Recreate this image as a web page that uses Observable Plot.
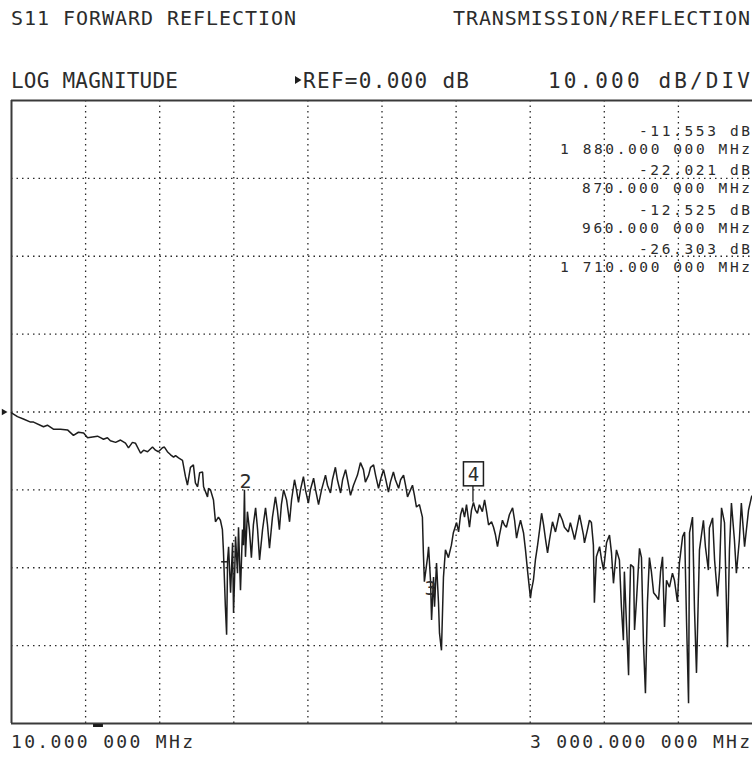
<!DOCTYPE html>
<html><head><meta charset="utf-8">
<script src="https://cdn.jsdelivr.net/npm/d3@7"></script>
<script src="https://cdn.jsdelivr.net/npm/@observablehq/plot@0.6"></script>
<style>html,body{margin:0;padding:0;background:#fff}#chart svg{display:block}</style>
</head><body><div id="chart"></div>
<script>
// ---- sweep / display settings ----
const startMHz = 10, stopMHz = 3000;
const refDB = 0, dbPerDiv = 10;
// ---- header / annotation texts ----
const titleLeft = "S11 FORWARD REFLECTION";
const titleRight = "TRANSMISSION/REFLECTION";
const formatText = "LOG MAGNITUDE";
const refText = "REF=0.000 dB";
const scaleText = "10.000 dB/DIV";
const startText = "10.000 000 MHz";
const stopText = "3 000.000 000 MHz";
const readoutDB = ["-11.553 dB", "-22.021 dB", "-12.525 dB", "-26.303 dB"];
const readoutMHz = ["1 880.000 000 MHz", "870.000 000 MHz", "960.000 000 MHz", "1 710.000 000 MHz"];
// ---- grid ----
const gridMHz = [309, 608, 907, 1206, 1505, 1804, 2103, 2402, 2701];
const gridDB = [30, 20, 10, 0, -10, -20, -30];
// ---- markers shown on trace ----
const markerLabels = ["2", "3", "4"];
const markerMHz = [950, 1705, 1874];
const markerDB = [-10.0, -21.8, -11.6];
const inactiveMarkerMHz = [870];
const inactiveMarkerDB = [-19.3];
const stimBarMHz = [341, 381];
// ---- trace: frequency (MHz) and magnitude (dB) ----
const freqMHz = [
10,34,58,87,99,139,155,179,208,236,
260,280,301,317,337,357,369,381,397,409,
430,450,470,482,498,510,531,543,559,579,
591,603,619,627,639,652,664,672,684,700,
712,720,732,744,752,761,769,781,785,801,
805,813,825,833,845,853,861,865,873,878,
882,886,894,902,906,910,914,922,926,934,
942,946,950,954,962,970,978,986,995,1003,
1011,1023,1035,1043,1051,1063,1075,1083,1091,1099,
1108,1120,1132,1140,1152,1160,1168,1176,1188,1196,
1208,1216,1229,1237,1249,1261,1277,1285,1297,1305,
1317,1325,1338,1346,1358,1366,1378,1390,1406,1418,
1430,1438,1451,1459,1471,1479,1491,1499,1511,1519,
1531,1539,1551,1559,1572,1580,1592,1600,1608,1620,
1628,1636,1644,1656,1668,1672,1676,1689,1693,1701,
1705,1713,1717,1725,1733,1737,1745,1753,1761,1773,
1785,1793,1806,1814,1822,1830,1838,1846,1858,1866,
1874,1882,1890,1898,1910,1919,1927,1935,1947,1955,
1963,1971,1979,1991,1999,2007,2019,2032,2040,2048,
2056,2064,2076,2084,2092,2104,2108,2116,2124,2132,
2141,2149,2157,2165,2173,2181,2193,2205,2221,2233,
2241,2257,2265,2278,2282,2294,2302,2310,2318,2322,
2334,2342,2350,2358,2362,2370,2383,2391,2399,2411,
2423,2431,2439,2451,2463,2471,2479,2483,2492,2500,
2504,2508,2520,2524,2532,2544,2552,2560,2568,2576,
2584,2592,2601,2613,2621,2629,2637,2645,2653,2665,
2677,2685,2697,2705,2718,2726,2734,2742,2746,2758,
2766,2774,2786,2802,2810,2822,2826,2839,2847,2859,
2867,2875,2887,2899,2907,2915,2927,2935,2947,2955,
2968,2984,2996,3000];
const magDB = [
-0.1,-0.6,-0.9,-1.3,-1.3,-1.9,-1.7,-2.2,-2.2,-2.3,
-3.0,-2.6,-2.7,-3.3,-3.2,-3.1,-3.3,-3.5,-3.3,-3.7,
-3.9,-3.6,-4.0,-4.6,-3.9,-4.0,-5.3,-4.9,-5.1,-4.5,
-4.9,-5.1,-4.6,-4.5,-5.1,-5.5,-5.8,-5.6,-5.9,-6.2,
-8.3,-9.4,-7.1,-6.8,-9.1,-9.6,-7.8,-7.7,-9.6,-10.9,
-9.8,-10.0,-11.3,-14.1,-13.5,-13.9,-15.1,-17.7,-25.0,-28.6,
-19.0,-17.3,-23.2,-16.8,-25.8,-21.6,-16.0,-20.7,-14.8,-22.9,
-15.1,-17.1,-10.0,-18.6,-12.8,-15.1,-18.7,-14.5,-12.3,-15.1,
-19.0,-15.1,-12.3,-14.5,-17.5,-13.5,-10.9,-12.6,-15.1,-11.9,
-10.0,-11.3,-14.1,-11.3,-8.7,-10.0,-11.6,-10.0,-8.3,-10.0,
-11.7,-10.0,-8.5,-10.0,-11.9,-10.0,-8.1,-9.4,-10.4,-8.7,
-7.1,-8.7,-10.4,-8.7,-7.4,-8.7,-10.7,-9.4,-8.1,-6.5,
-7.4,-9.0,-8.1,-7.1,-6.8,-8.1,-9.8,-8.7,-7.4,-8.5,
-10.3,-9.0,-7.7,-8.7,-9.8,-8.7,-8.1,-9.4,-10.9,-10.0,
-9.4,-10.7,-12.2,-11.9,-13.5,-18.1,-21.8,-18.6,-17.3,-21.8,
-26.7,-21.2,-25.0,-19.4,-24.5,-28.4,-30.6,-21.2,-17.7,-18.7,
-17.1,-15.5,-14.2,-15.4,-13.2,-12.3,-13.5,-11.9,-14.8,-12.6,
-11.6,-12.6,-13.0,-11.9,-12.8,-11.3,-12.8,-14.5,-14.1,-14.8,
-15.8,-17.3,-15.8,-13.9,-14.5,-14.8,-13.2,-12.3,-13.9,-16.2,
-14.9,-13.9,-15.5,-17.7,-20.3,-23.9,-22.9,-21.6,-19.0,-17.3,
-15.1,-13.0,-14.5,-16.4,-18.1,-16.4,-14.1,-15.4,-13.0,-13.9,
-14.8,-15.4,-14.2,-15.8,-16.4,-14.5,-13.2,-14.5,-15.8,-16.8,
-15.1,-13.9,-14.2,-17.1,-24.5,-18.6,-17.3,-19.0,-20.3,-16.8,
-15.8,-18.1,-22.0,-17.7,-19.0,-25.0,-29.3,-20.5,-27.6,-33.8,
-25.0,-19.6,-19.9,-28.0,-24.1,-17.5,-18.7,-29.7,-36.1,-24.5,
-18.7,-20.5,-23.2,-23.7,-24.1,-20.5,-18.6,-27.6,-21.6,-22.5,
-20.7,-21.6,-24.4,-19.4,-16.0,-15.4,-27.1,-37.4,-15.5,-13.5,
-25.4,-33.5,-17.7,-13.9,-17.3,-20.3,-14.9,-13.6,-19.0,-23.7,
-20.3,-12.3,-14.2,-30.2,-17.7,-11.7,-16.4,-20.7,-16.4,-11.7,
-17.3,-12.6,-10.9,-10.7];

if (freqMHz.length !== magDB.length) console.error("length mismatch", freqMHz.length, magDB.length);
const trace = freqMHz.map((f, i) => ({f, db: magDB[i]}));
const markers = markerLabels.map((label, i) => ({label, f: markerMHz[i], db: markerDB[i]}));

const ink = "#1d1d1d";
const textInk = "#2c2c2c";
const frameInk = "#3a3a3a";
const dotted = {stroke: "#2a2a2a", strokeWidth: 1.3, strokeDasharray: "1.5,4"};
const mono = "'DejaVu Sans Mono', monospace";

const refArrow = {draw(ctx, size) { const r = Math.sqrt(size / Math.PI);
  ctx.moveTo(-r * 0.9, -r * 1.1); ctx.lineTo(r, 0); ctx.lineTo(-r * 0.9, r * 1.1); ctx.closePath(); }};

const plot = Plot.plot({
  width: 752, height: 758,
  marginLeft: 11, marginRight: 0, marginTop: 100, marginBottom: 35,
  x: {type: "linear", domain: [startMHz, stopMHz], axis: null},
  y: {type: "linear", domain: [refDB - 4 * dbPerDiv, refDB + 4 * dbPerDiv], axis: null},
  style: {background: "#fff", overflow: "visible"},
  marks: [
    Plot.ruleX(gridMHz, dotted),
    Plot.ruleY(gridDB, dotted),
    Plot.ruleY([refDB + 4 * dbPerDiv, refDB - 4 * dbPerDiv], {stroke: frameInk, strokeWidth: 2}),
    Plot.ruleX([startMHz], {stroke: frameInk, strokeWidth: 2}),
    Plot.line(trace, {x: "f", y: "db", stroke: ink, strokeWidth: 1.5, strokeLinejoin: "miter"}),
    Plot.dot([refDB], {x: () => startMHz, y: d => d, symbol: refArrow, r: 3, dx: -7, fill: ink, stroke: "none"}),
    Plot.text(markers.filter(m => m.label === "2"), {x: "f", y: "db", text: "label", dx: 1, dy: -2, lineAnchor: "bottom", fontFamily: mono, fontSize: 20, fill: textInk}),
    Plot.text(markers.filter(m => m.label === "3"), {x: "f", y: "db", text: "label", dx: -1, dy: 13, lineAnchor: "bottom", fontFamily: mono, fontSize: 20, fill: textInk})
  ]
});

const svg = d3.select(plot);
const xs = plot.scale("x"), ys = plot.scale("y");
const px = xs.apply ? v => xs.apply(v) : d3.scaleLinear(xs.domain, xs.range);
const py = ys.apply ? v => ys.apply(v) : d3.scaleLinear(ys.domain, ys.range);

// marker 4: boxed label with stem
const m4 = markers.find(m => m.label === "4");
const g4 = svg.append("g");
g4.append("line").attr("x1", px(m4.f)).attr("x2", px(m4.f)).attr("y1", py(m4.db) - 16).attr("y2", py(m4.db)).attr("stroke", ink).attr("stroke-width", 1.3);
g4.append("rect").attr("x", px(m4.f) - 9.5).attr("y", py(m4.db) - 40).attr("width", 20).attr("height", 24).attr("fill", "#fff").attr("stroke", ink).attr("stroke-width", 1.5);
g4.append("text").attr("x", px(m4.f) + 0.5).attr("y", py(m4.db) - 21).attr("text-anchor", "middle").attr("font-family", mono).attr("font-size", 19).attr("fill", textInk).text(m4.label);

// inactive marker tick
inactiveMarkerMHz.forEach((f, i) => {
  svg.append("line").attr("x1", px(f) - 3).attr("x2", px(f) + 4).attr("y1", py(inactiveMarkerDB[i])).attr("y2", py(inactiveMarkerDB[i])).attr("stroke", ink).attr("stroke-width", 1.5);
});
// stimulus bar under the axis
svg.append("line").attr("x1", px(stimBarMHz[0])).attr("x2", px(stimBarMHz[1])).attr("y1", py(refDB - 4 * dbPerDiv) + 2.5).attr("y2", py(refDB - 4 * dbPerDiv) + 2.5).attr("stroke", ink).attr("stroke-width", 3);

// annotation texts (start x, baseline y, font size, span length)
function label(str, x, y, size, len) {
  const t = svg.append("text").attr("x", x).attr("y", y).attr("font-family", mono).attr("font-size", size)
    .attr("fill", textInk).attr("text-anchor", "start").text(str);
  if (len) t.attr("textLength", len).attr("lengthAdjust", "spacing");
  return t;
}
label(titleLeft, 11, 25, 20, 285);
label(titleRight, 453, 25, 20, 297);
label(formatText, 11, 88, 21, 167);
svg.append("path").attr("d", "M295,76 L301.5,80 L295,84 Z").attr("fill", ink);
label(refText, 303, 88, 21, 166);
label(scaleText, 548, 88, 21, 202);
label(startText, 11, 748, 18, 182);
label(stopText, 530, 748, 18, 220);
const dbBase = [136, 175, 215, 254], mhzBase = [154, 193, 233, 272];
readoutDB.forEach((s, i) => label(s, 639, dbBase[i], 14.5, 111));
readoutMHz.forEach((s, i) => {
  const len = s.length === 17 ? 190 : 168;
  label(s, 750 - len, mhzBase[i], 14.5, len);
});

document.getElementById("chart").appendChild(plot);
</script>
</body></html>
